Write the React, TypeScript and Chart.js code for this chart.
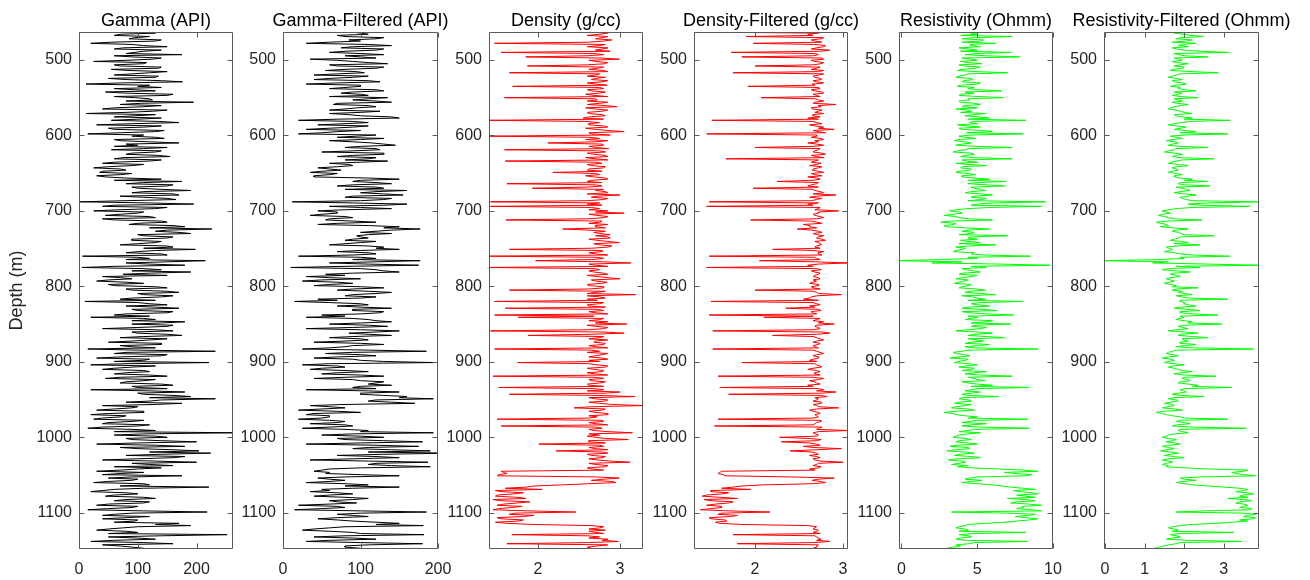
import React, { useEffect, useRef } from "react";
import { Chart, registerables } from "chart.js";

Chart.register(...registerables);

// Depth samples (m)
const DEPTH_M = [
  463, 466, 469, 472, 475, 478, 481, 484, 487, 490,
  493, 496, 499, 502, 505, 508, 511, 514, 517, 520,
  523, 526, 529, 532, 535, 538, 541, 544, 547, 550,
  553, 556, 559, 562, 565, 568, 571, 574, 577, 580,
  583, 586, 589, 592, 595, 598, 601, 604, 607, 610,
  613, 616, 619, 622, 625, 628, 631, 634, 637, 640,
  643, 646, 649, 652, 655, 658, 661, 664, 667, 670,
  673, 676, 679, 682, 685, 688, 691, 694, 697, 700,
  703, 706, 709, 712, 715, 718, 721, 724, 727, 730,
  733, 736, 739, 742, 745, 748, 751, 754, 757, 760,
  763, 766, 769, 772, 775, 778, 781, 784, 787, 790,
  793, 796, 799, 802, 805, 808, 811, 814, 817, 820,
  823, 826, 829, 832, 835, 838, 841, 844, 847, 850,
  853, 856, 859, 862, 865, 868, 871, 874, 877, 880,
  883, 886, 889, 892, 895, 898, 901, 904, 907, 910,
  913, 916, 919, 922, 925, 928, 931, 934, 937, 940,
  943, 946, 949, 952, 955, 958, 961, 964, 967, 970,
  973, 976, 979, 982, 985, 988, 991, 994, 997, 1000,
  1003, 1006, 1009, 1012, 1015, 1018, 1021, 1024, 1027, 1030,
  1033, 1036, 1039, 1042, 1045, 1048, 1051, 1054, 1057, 1060,
  1063, 1066, 1069, 1072, 1075, 1078, 1081, 1084, 1087, 1090,
  1093, 1096, 1099, 1102, 1105, 1108, 1111, 1114, 1117, 1120,
  1123, 1126, 1129, 1132, 1135, 1138, 1141, 1144, 1147,
];

// In-between depth samples (m)
const DEPTH_MID_M = [
  464.5, 467.5, 470.5, 473.5, 476.5, 479.5, 482.5, 485.5, 488.5, 491.5,
  494.5, 497.5, 500.5, 503.5, 506.5, 509.5, 512.5, 515.5, 518.5, 521.5,
  524.5, 527.5, 530.5, 533.5, 536.5, 539.5, 542.5, 545.5, 548.5, 551.5,
  554.5, 557.5, 560.5, 563.5, 566.5, 569.5, 572.5, 575.5, 578.5, 581.5,
  584.5, 587.5, 590.5, 593.5, 596.5, 599.5, 602.5, 605.5, 608.5, 611.5,
  614.5, 617.5, 620.5, 623.5, 626.5, 629.5, 632.5, 635.5, 638.5, 641.5,
  644.5, 647.5, 650.5, 653.5, 656.5, 659.5, 662.5, 665.5, 668.5, 671.5,
  674.5, 677.5, 680.5, 683.5, 686.5, 689.5, 692.5, 695.5, 698.5, 701.5,
  704.5, 707.5, 710.5, 713.5, 716.5, 719.5, 722.5, 725.5, 728.5, 731.5,
  734.5, 737.5, 740.5, 743.5, 746.5, 749.5, 752.5, 755.5, 758.5, 761.5,
  764.5, 767.5, 770.5, 773.5, 776.5, 779.5, 782.5, 785.5, 788.5, 791.5,
  794.5, 797.5, 800.5, 803.5, 806.5, 809.5, 812.5, 815.5, 818.5, 821.5,
  824.5, 827.5, 830.5, 833.5, 836.5, 839.5, 842.5, 845.5, 848.5, 851.5,
  854.5, 857.5, 860.5, 863.5, 866.5, 869.5, 872.5, 875.5, 878.5, 881.5,
  884.5, 887.5, 890.5, 893.5, 896.5, 899.5, 902.5, 905.5, 908.5, 911.5,
  914.5, 917.5, 920.5, 923.5, 926.5, 929.5, 932.5, 935.5, 938.5, 941.5,
  944.5, 947.5, 950.5, 953.5, 956.5, 959.5, 962.5, 965.5, 968.5, 971.5,
  974.5, 977.5, 980.5, 983.5, 986.5, 989.5, 992.5, 995.5, 998.5, 1001.5,
  1004.5, 1007.5, 1010.5, 1013.5, 1016.5, 1019.5, 1022.5, 1025.5, 1028.5, 1031.5,
  1034.5, 1037.5, 1040.5, 1043.5, 1046.5, 1049.5, 1052.5, 1055.5, 1058.5, 1061.5,
  1064.5, 1067.5, 1070.5, 1073.5, 1076.5, 1079.5, 1082.5, 1085.5, 1088.5, 1091.5,
  1094.5, 1097.5, 1100.5, 1103.5, 1106.5, 1109.5, 1112.5, 1115.5, 1118.5, 1121.5,
  1124.5, 1127.5, 1130.5, 1133.5, 1136.5, 1139.5, 1142.5, 1145.5,
];

const GAMMA = [
  100, 70, 120, 85, 130, 20, 110, 75, 140, 95,
  175, 90, 125, 25, 110, 70, 135, 85, 120, 60,
  130, 80, 176, 12, 100, 60, 130, 80, 150, 95,
  125, 195, 70, 110, 40, 125, 12, 95, 140, 55,
  170, 30, 110, 60, 130, 15, 90, 145, 70, 170,
  100, 150, 55, 130, 80, 155, 60, 120, 40, 90,
  25, 80, 35, 70, 45, 140, 175, 80, 150, 100,
  190, 90, 170, 110, 165, 2, 195, 40, 130, 25,
  100, 45, 130, 60, 150, 85, 180, 226, 130, 190,
  110, 150, 90, 130, 70, 160, 198, 100, 140, 6,
  120, 215, 80, 180, 5, 140, 190, 75, 40, 90,
  30, 110, 60, 150, 90, 170, 110, 140, 70, 10,
  120, 80, 170, 100, 150, 60, 20, 130, 180, 90,
  150, 40, 160, 100, 175, 70, 120, 50, 140, 90,
  15, 232, 60, 140, 30, 110, 221, 20, 90, 40,
  120, 60, 150, 45, 110, 70, 160, 100, 20, 180,
  110, 190, 232, 120, 175, 40, 90, 30, 110, 20,
  70, 25, 90, 40, 100, 15, 130, 265, 60, 150,
  90, 200, 30, 180, 100, 204, 224, 80, 160, 40,
  200, 120, 60, 100, 30, 70, 175, 50, 90, 25,
  120, 221, 60, 20, 100, 45, 130, 60, 110, 30,
  90, 15, 218, 60, 120, 40, 95, 170, 190, 75,
  30, 100, 252, 50, 130, 20, 160, 70, 110,
];
const GAMMA_MID = [
  130, 60, 95, 140, 55, 90, 150, 60, 110, 80,
  60, 140, 80, 115, 60, 140, 55, 150, 90, 135,
  50, 140, 70, 120, 140, 95, 45, 160, 60, 120,
  80, 105, 140, 60, 150, 80, 130, 60, 100, 135,
  90, 140, 50, 145, 70, 110, 130, 60, 120, 80,
  60, 110, 140, 90, 135, 75, 140, 60, 110, 50,
  70, 40, 90, 30, 80, 60, 110, 160, 90, 140,
  110, 160, 70, 150, 80, 120, 60, 150, 70, 110,
  70, 120, 40, 140, 100, 160, 120, 150, 170, 100,
  160, 90, 140, 100, 150, 110, 130, 80, 150, 100,
  80, 150, 120, 60, 110, 90, 120, 150, 70, 50,
  80, 50, 130, 80, 150, 100, 160, 90, 130, 100,
  150, 130, 90, 160, 80, 120, 110, 90, 140, 160,
  100, 130, 90, 150, 110, 150, 90, 140, 70, 130,
  100, 80, 150, 70, 120, 60, 80, 130, 60, 110,
  80, 120, 70, 130, 80, 140, 90, 150, 120, 100,
  160, 120, 140, 80, 130, 100, 60, 110, 50, 80,
  40, 110, 50, 120, 40, 90, 60, 110, 130, 80,
  140, 100, 130, 70, 160, 120, 140, 180, 100, 130,
  90, 160, 140, 70, 110, 40, 90, 100, 50, 110,
  70, 110, 40, 80, 60, 110, 80, 120, 50, 100,
  50, 110, 90, 40, 80, 100, 60, 130, 100, 50,
  80, 50, 140, 100, 60, 110, 40, 90,
];

const GAMMA_FILTERED = [
  90, 110, 80, 120, 100, 30, 140, 75, 120, 60,
  130, 100, 35, 90, 135, 70, 120, 55, 105, 40,
  90, 40, 125, 30, 100, 60, 130, 75, 110, 135,
  90, 140, 65, 120, 80, 125, 60, 100, 150, 20,
  110, 45, 90, 30, 70, 20, 95, 130, 60, 115,
  145, 80, 125, 50, 130, 70, 110, 135, 60, 90,
  45, 75, 35, 60, 40, 150, 90, 140, 70, 130,
  160, 100, 155, 80, 130, 12, 160, 60, 140, 45,
  70, 35, 90, 55, 120, 45, 150, 177, 120, 140,
  95, 110, 80, 100, 60, 130, 150, 70, 120, 20,
  120, 177, 60, 175, 10, 120, 150, 55, 30, 100,
  25, 90, 40, 130, 70, 140, 90, 120, 45, 15,
  100, 70, 140, 90, 125, 50, 30, 110, 140, 60,
  135, 30, 150, 85, 140, 60, 110, 40, 130, 80,
  25, 185, 55, 120, 40, 100, 195, 25, 80, 35,
  110, 50, 130, 40, 100, 120, 140, 90, 30, 150,
  100, 160, 194, 110, 170, 35, 80, 20, 100, 30,
  60, 20, 80, 35, 90, 25, 110, 194, 50, 130,
  80, 180, 30, 175, 90, 190, 215, 70, 150, 35,
  187, 110, 190, 60, 40, 55, 150, 45, 80, 30,
  110, 150, 50, 35, 90, 40, 110, 60, 95, 20,
  80, 15, 185, 70, 110, 45, 90, 150, 181, 60,
  25, 90, 182, 40, 120, 30, 180, 80, 100,
];
const GAMMA_FILTERED_MID = [
  100, 70, 130, 85, 60, 110, 90, 130, 80, 100,
  80, 120, 70, 110, 60, 130, 80, 95, 70, 110,
  60, 110, 70, 100, 80, 120, 90, 100, 60, 110,
  120, 70, 110, 95, 60, 100, 85, 140, 70, 90,
  80, 110, 60, 100, 50, 120, 70, 100, 90, 130,
  100, 120, 90, 130, 90, 120, 80, 100, 85, 70,
  60, 50, 70, 40, 110, 100, 120, 90, 120, 80,
  120, 130, 90, 140, 100, 90, 130, 100, 80, 70,
  50, 80, 60, 90, 70, 110, 130, 140, 100, 110,
  100, 90, 120, 80, 110, 120, 100, 110, 90, 100,
  90, 120, 110, 80, 100, 130, 90, 80, 60, 50,
  70, 60, 100, 90, 110, 120, 80, 100, 70, 60,
  110, 100, 90, 130, 100, 80, 90, 120, 100, 110,
  90, 100, 120, 110, 90, 100, 80, 100, 90, 60,
  110, 90, 100, 70, 90, 130, 60, 70, 50, 80,
  70, 100, 80, 90, 130, 110, 100, 120, 110, 100,
  130, 150, 120, 140, 80, 60, 50, 70, 40, 60,
  50, 60, 70, 80, 60, 80, 100, 90, 100, 70,
  130, 100, 120, 110, 140, 110, 130, 120, 90, 110,
  120, 140, 100, 50, 60, 100, 80, 60, 60, 80,
  80, 90, 60, 70, 60, 80, 90, 70, 60, 70,
  50, 100, 100, 90, 70, 70, 120, 120, 80, 40,
  60, 100, 80, 90, 60, 100, 110, 80,
];

const DENSITY = [
  2.65, 2.75, 2.85, 2.7, 2.8, 1.47, 2.75, 2.85, 2.7, 1.55,
  2.8, 1.85, 2.99, 2.7, 2.82, 1.87, 2.72, 2.8, 1.65, 2.7,
  2.82, 2.65, 2.78, 2.7, 1.69, 2.8, 2.65, 2.75, 2.68, 1.59,
  2.72, 2.85, 2.6, 2.96, 2.7, 2.78, 2.62, 2.82, 2.55, 1.4,
  2.75, 2.62, 2.85, 2.7, 3.05, 2.65, 1.4, 2.75, 2.85, 2.12,
  2.8, 2.7, 1.59, 2.82, 2.68, 2.85, 2.7, 1.6, 2.78, 2.65,
  2.8, 2.6, 2.18, 2.75, 2.68, 2.85, 2.6, 1.62, 2.78, 1.93,
  2.7, 2.85, 3.0, 2.65, 2.8, 1.42, 2.6, 1.42, 2.75, 2.85,
  3.05, 2.72, 2.8, 1.61, 2.75, 2.85, 2.7, 2.3, 2.82, 2.75,
  2.7, 2.88, 2.72, 2.99, 2.75, 2.85, 1.65, 2.78, 2.7, 1.4,
  2.8, 1.97, 3.13, 2.7, 1.4, 2.75, 2.68, 2.85, 2.72, 3.0,
  2.7, 2.78, 2.62, 2.8, 1.65, 2.7, 3.19, 2.75, 2.6, 1.47,
  2.75, 2.62, 1.6, 2.8, 2.7, 1.47, 1.76, 2.75, 2.85, 3.08,
  2.7, 2.8, 1.42, 3.05, 1.88, 2.75, 2.85, 2.68, 2.8, 2.7,
  1.47, 2.75, 2.85, 2.7, 2.78, 2.62, 1.75, 2.72, 2.82, 2.68,
  2.78, 2.7, 1.45, 2.8, 2.65, 2.75, 2.62, 1.52, 2.8, 3.0,
  1.65, 3.18, 2.7, 2.82, 2.75, 3.3, 2.44, 2.78, 2.7, 2.85,
  2.72, 1.5, 2.8, 2.7, 1.55, 2.78, 2.68, 3.15, 2.75, 2.7,
  3.1, 2.62, 2.01, 2.8, 2.7, 2.22, 2.85, 2.65, 2.78, 2.72,
  3.12, 2.7, 2.82, 2.65, 1.55, 1.62, 1.5, 2.99, 2.65, 2.95,
  2.3, 1.85, 2.05, 1.55, 1.7, 1.48, 1.85, 1.55, 1.75, 1.5,
  1.68, 1.45, 2.46, 1.65, 1.8, 1.55, 1.75, 1.62, 2.65, 2.75,
  2.82, 2.7, 1.68, 2.75, 2.85, 2.98, 1.62, 2.72, 2.65,
];
const DENSITY_MID = [
  2.85, 2.6, 2.78, 2.9, 2.62, 2.82, 2.6, 2.78, 2.88, 2.68,
  2.6, 2.78, 2.62, 2.85, 2.6, 2.8, 2.62, 2.85, 2.75, 2.6,
  2.7, 2.85, 2.6, 2.84, 2.75, 2.6, 2.82, 2.58, 2.85, 2.7,
  2.6, 2.75, 2.82, 2.58, 2.85, 2.6, 2.78, 2.62, 2.8, 2.58,
  2.62, 2.8, 2.58, 2.85, 2.62, 2.88, 2.62, 2.58, 2.7, 2.78,
  2.62, 2.86, 2.75, 2.6, 2.82, 2.58, 2.85, 2.7, 2.6, 2.82,
  2.62, 2.78, 2.7, 2.58, 2.82, 2.65, 2.78, 2.7, 2.6, 2.8,
  2.82, 2.6, 2.72, 2.85, 2.6, 2.75, 2.78, 2.65, 2.62, 2.7,
  2.62, 2.85, 2.6, 2.78, 2.62, 2.7, 2.82, 2.62, 2.68, 2.88,
  2.85, 2.62, 2.85, 2.68, 2.9, 2.65, 2.78, 2.62, 2.85, 2.72,
  2.65, 2.8, 2.62, 2.85, 2.7, 2.62, 2.8, 2.6, 2.85, 2.65,
  2.84, 2.6, 2.8, 2.62, 2.82, 2.6, 2.6, 2.82, 2.72, 2.8,
  2.6, 2.82, 2.72, 2.62, 2.85, 2.68, 2.8, 2.62, 2.7, 2.6,
  2.85, 2.62, 2.78, 2.65, 2.8, 2.62, 2.7, 2.82, 2.62, 2.85,
  2.65, 2.6, 2.78, 2.62, 2.85, 2.75, 2.62, 2.85, 2.6, 2.8,
  2.6, 2.85, 2.68, 2.62, 2.82, 2.6, 2.8, 2.68, 2.6, 2.82,
  2.72, 2.62, 2.85, 2.62, 2.9, 2.65, 2.82, 2.62, 2.85, 2.62,
  2.62, 2.78, 2.62, 2.85, 2.7, 2.62, 2.85, 2.62, 2.6, 2.82,
  2.62, 2.82, 2.75, 2.62, 2.85, 2.78, 2.6, 2.82, 2.62, 2.88,
  2.62, 2.85, 2.6, 2.8, 1.58, 1.52, 2.7, 2.8, 2.9, 2.62,
  1.95, 1.6, 1.48, 1.82, 1.5, 1.75, 1.45, 1.9, 1.58, 1.8,
  1.52, 1.88, 1.72, 1.95, 1.5, 1.82, 1.48, 1.95, 2.8, 2.62,
  2.62, 2.8, 2.6, 2.62, 2.78, 2.62, 2.85, 2.6,
];

const DENSITY_FILTERED = [
  1.31, 2.6, 1.9, 2.75, 2.68, 1.98, 2.8, 2.7, 2.85, 1.73,
  2.72, 1.85, 2.78, 2.68, 2.75, 2.0, 2.7, 2.78, 1.75, 2.72,
  2.68, 2.76, 2.7, 2.65, 1.92, 2.74, 2.68, 2.78, 2.7, 2.07,
  2.72, 2.68, 2.92, 2.75, 2.65, 2.72, 2.78, 2.66, 2.6, 1.51,
  2.7, 2.62, 2.78, 2.9, 2.72, 1.45, 2.7, 2.75, 2.68, 2.6,
  2.78, 2.0, 2.72, 2.66, 2.8, 2.7, 1.67, 2.68, 2.75, 2.62,
  2.72, 2.65, 2.78, 2.68, 2.6, 2.74, 2.25, 2.7, 2.6, 1.98,
  2.68, 2.78, 2.92, 2.62, 2.7, 1.48, 2.6, 1.45, 2.72, 2.95,
  2.72, 2.68, 2.78, 1.95, 2.7, 2.55, 2.62, 2.48, 2.72, 2.66,
  2.78, 2.7, 2.8, 2.72, 2.75, 2.68, 2.2, 2.78, 2.72, 1.48,
  2.7, 2.05, 3.06, 2.6, 1.45, 2.75, 2.68, 2.72, 2.66, 2.74,
  2.7, 2.62, 2.72, 2.66, 2.0, 2.7, 2.98, 2.64, 2.55, 1.5,
  2.7, 2.62, 2.35, 2.75, 2.65, 1.48, 2.1, 2.7, 2.78, 2.9,
  2.68, 2.74, 1.52, 2.85, 2.2, 2.7, 2.78, 2.66, 2.72, 2.68,
  1.52, 2.7, 2.78, 2.66, 2.72, 2.62, 1.85, 2.7, 2.75, 2.6,
  2.74, 2.68, 1.58, 2.78, 2.62, 2.7, 2.6, 1.6, 2.78, 2.92,
  1.7, 2.82, 2.72, 2.66, 2.75, 2.7, 2.95, 2.62, 2.72, 2.68,
  2.72, 1.58, 2.75, 2.68, 1.54, 2.72, 3.06, 2.66, 2.72, 2.28,
  2.75, 2.3, 2.7, 2.55, 2.98, 2.4, 2.7, 2.62, 2.74, 2.68,
  3.0, 2.7, 2.75, 2.62, 1.62, 1.58, 1.66, 2.9, 2.65, 2.8,
  2.1, 1.75, 1.95, 1.5, 1.62, 1.4, 1.8, 1.5, 1.7, 1.45,
  1.62, 1.38, 2.17, 1.58, 1.72, 1.5, 1.68, 1.6, 2.6, 2.68,
  2.72, 2.66, 1.75, 2.7, 2.75, 2.85, 1.8, 2.7, 2.66,
];
const DENSITY_FILTERED_MID = [
  2.72, 2.66, 2.78, 2.64, 2.76, 2.68, 2.78, 2.64, 2.74, 2.68,
  2.66, 2.76, 2.64, 2.78, 2.66, 2.74, 2.64, 2.72, 2.78, 2.66,
  2.74, 2.66, 2.78, 2.68, 2.72, 2.64, 2.76, 2.66, 2.74, 2.68,
  2.78, 2.66, 2.72, 2.64, 2.76, 2.68, 2.66, 2.74, 2.72, 2.66,
  2.76, 2.68, 2.72, 2.66, 2.8, 2.7, 2.64, 2.78, 2.72, 2.7,
  2.66, 2.74, 2.68, 2.76, 2.64, 2.78, 2.72, 2.64, 2.7, 2.76,
  2.66, 2.72, 2.64, 2.76, 2.7, 2.66, 2.72, 2.64, 2.72, 2.66,
  2.74, 2.66, 2.7, 2.76, 2.64, 2.72, 2.66, 2.74, 2.68, 2.72,
  2.66, 2.74, 2.7, 2.64, 2.76, 2.62, 2.7, 2.64, 2.76, 2.7,
  2.72, 2.76, 2.68, 2.74, 2.7, 2.74, 2.66, 2.72, 2.76, 2.68,
  2.74, 2.68, 2.72, 2.66, 2.7, 2.64, 2.74, 2.68, 2.72, 2.66,
  2.66, 2.72, 2.64, 2.74, 2.66, 2.72, 2.7, 2.62, 2.72, 2.66,
  2.74, 2.68, 2.72, 2.64, 2.7, 2.66, 2.74, 2.66, 2.72, 2.7,
  2.72, 2.66, 2.76, 2.7, 2.66, 2.74, 2.7, 2.74, 2.66, 2.72,
  2.66, 2.74, 2.7, 2.72, 2.66, 2.7, 2.68, 2.74, 2.66, 2.7,
  2.68, 2.74, 2.66, 2.72, 2.68, 2.74, 2.66, 2.72, 2.7, 2.76,
  2.74, 2.68, 2.7, 2.76, 2.66, 2.72, 2.7, 2.66, 2.74, 2.7,
  2.66, 2.74, 2.7, 2.66, 2.76, 2.7, 2.72, 2.68, 2.7, 2.6,
  2.7, 2.62, 2.74, 2.66, 2.7, 2.64, 2.72, 2.7, 2.66, 2.74,
  2.72, 2.66, 2.72, 2.68, 1.6, 1.64, 2.4, 2.72, 2.74, 2.66,
  1.85, 1.62, 1.5, 1.7, 1.45, 1.6, 1.42, 1.75, 1.55, 1.62,
  1.5, 1.7, 1.62, 1.8, 1.48, 1.66, 1.55, 1.85, 2.7, 2.66,
  2.7, 2.74, 2.68, 2.72, 2.7, 2.66, 2.72, 2.7,
];

const RESISTIVITY = [
  4.3, 5.0, 7.3, 4.0, 5.2, 6.2, 4.5, 3.8, 5.0, 7.2,
  4.2, 7.8, 4.6, 3.9, 5.3, 4.1, 4.8, 3.7, 7.0, 4.2,
  3.6, 4.7, 4.0, 5.0, 3.7, 4.4, 6.6, 4.8, 3.8, 6.7,
  4.5, 3.9, 5.2, 4.0, 3.6, 4.6, 5.5, 4.2, 5.8, 8.2,
  4.5, 3.7, 5.2, 4.0, 6.0, 8.0, 3.8, 4.9, 3.5, 4.6,
  3.6, 7.3, 4.2, 3.4, 4.8, 3.9, 7.3, 4.3, 3.6, 5.6,
  3.9, 4.5, 3.6, 4.9, 4.0, 5.8, 6.9, 4.4, 6.8, 4.8,
  5.5, 4.2, 6.0, 4.6, 5.3, 9.5, 5.0, 9.2, 4.4, 3.2,
  4.0, 2.8, 3.8, 6.0, 2.6, 3.5, 2.9, 5.8, 4.0, 4.6,
  7.0, 4.4, 3.9, 5.2, 6.2, 3.6, 4.0, 3.4, 4.6, 8.5,
  5.0, -0.5, 2.0, 9.8, 5.6, 4.3, 5.2, 3.8, 4.6, 3.6,
  4.1, 3.5, 4.4, 3.8, 5.5, 4.2, 6.2, 4.7, 5.5, 8.0,
  4.6, 5.8, 4.0, 6.3, 4.5, 7.4, 5.0, 4.2, 5.6, 7.2,
  4.6, 5.2, 3.6, 6.0, 4.4, 6.8, 5.0, 4.6, 5.8, 4.2,
  9.0, 4.0, 3.6, 4.5, 3.2, 4.2, 3.5, 5.0, 3.8, 4.6,
  5.6, 4.2, 7.3, 4.8, 5.5, 4.4, 6.0, 8.4, 4.6, 5.2,
  4.0, 6.4, 3.8, 4.6, 3.5, 4.2, 3.3, 4.8, 2.8, 3.6,
  5.0, 8.3, 4.5, 5.6, 4.0, 8.4, 4.4, 5.2, 3.8, 3.4,
  4.6, 3.6, 5.0, 3.2, 4.5, 3.0, 4.8, 3.5, 5.2, 3.1,
  4.2, 3.3, 3.7, 6.5, 9.0, 7.5, 8.2, 4.5, 5.3, 4.0,
  6.0, 7.2, 8.8, 7.8, 9.0, 8.2, 7.0, 8.8, 7.2, 9.2,
  8.0, 8.6, 3.3, 8.8, 7.5, 9.0, 7.6, 5.5, 4.2, 3.6,
  4.4, 8.2, 3.8, 4.6, 3.6, 8.3, 4.5, 3.9, 3.0,
];
const RESISTIVITY_MID = [
  4.6, 3.9, 4.8, 5.4, 4.0, 4.6, 5.2, 4.4, 3.9, 5.0,
  5.6, 4.0, 5.0, 4.4, 3.8, 5.2, 4.0, 4.9, 4.4, 3.8,
  4.6, 4.1, 5.2, 3.9, 4.8, 5.0, 4.2, 3.9, 5.0, 4.4,
  3.8, 4.8, 4.2, 5.0, 4.4, 3.9, 4.8, 5.0, 4.4, 4.8,
  5.0, 4.4, 3.8, 5.3, 4.3, 4.6, 4.2, 3.8, 4.2, 4.0,
  4.9, 4.4, 3.7, 4.6, 4.2, 4.8, 4.0, 5.0, 4.4, 4.0,
  4.6, 3.8, 4.4, 4.0, 4.8, 4.4, 5.0, 5.6, 4.6, 5.2,
  4.6, 5.2, 4.8, 5.6, 4.4, 6.0, 4.6, 5.8, 3.6, 3.8,
  3.4, 3.6, 4.4, 3.2, 3.6, 2.8, 4.2, 4.4, 4.8, 3.8,
  4.6, 5.0, 4.4, 3.8, 4.4, 4.2, 3.6, 4.8, 5.4, 4.4,
  2.6, 4.0, 6.5, 4.6, 4.0, 4.8, 4.0, 5.0, 4.0, 4.4,
  3.8, 4.6, 4.0, 5.0, 4.6, 5.2, 4.0, 5.0, 4.4, 5.2,
  5.0, 4.4, 5.4, 4.0, 5.6, 4.4, 4.6, 6.0, 4.6, 5.0,
  5.6, 4.4, 5.0, 4.8, 5.6, 4.4, 5.4, 4.2, 5.0, 4.8,
  4.4, 3.4, 4.2, 3.8, 4.4, 3.8, 4.4, 4.2, 4.8, 4.0,
  4.8, 5.2, 4.4, 5.0, 4.0, 5.0, 4.6, 5.0, 4.2, 4.6,
  4.4, 4.0, 4.4, 3.8, 4.6, 3.6, 4.4, 3.6, 3.4, 4.2,
  4.4, 5.0, 4.0, 4.6, 5.2, 4.8, 3.8, 4.4, 3.6, 4.2,
  3.8, 4.4, 3.6, 4.4, 3.6, 4.2, 3.8, 4.6, 3.6, 4.0,
  3.8, 4.4, 4.6, 8.0, 6.8, 8.6, 5.0, 4.2, 4.6, 5.0,
  6.6, 8.0, 7.4, 8.6, 7.6, 8.8, 8.2, 7.6, 8.4, 8.0,
  7.6, 9.2, 7.0, 8.4, 8.2, 8.4, 6.8, 4.4, 3.8, 4.2,
  3.8, 4.8, 4.4, 3.8, 4.2, 4.8, 3.6, 3.4,
];

const RESISTIVITY_FILTERED = [
  1.9, 2.0, 2.48, 1.8, 2.05, 2.3, 1.85, 1.7, 2.0, 3.12,
  1.85, 2.6, 1.9, 1.7, 2.1, 1.75, 1.95, 1.65, 2.86, 1.8,
  1.6, 1.95, 1.75, 2.05, 1.65, 1.85, 2.3, 1.95, 1.7, 2.35,
  1.85, 1.7, 2.1, 1.75, 1.6, 1.9, 2.2, 1.8, 2.2, 3.16,
  1.9, 1.6, 2.05, 1.75, 2.3, 3.1, 1.65, 1.95, 1.55, 1.85,
  1.6, 2.6, 1.75, 1.5, 1.95, 1.7, 2.75, 1.8, 1.6, 2.1,
  1.7, 1.85, 1.6, 1.95, 1.75, 2.2, 2.6, 1.85, 2.65, 1.95,
  2.15, 1.75, 2.3, 1.9, 2.05, 3.88, 2.1, 3.65, 1.8, 1.45,
  1.65, 1.35, 1.6, 2.45, 1.3, 1.55, 1.4, 2.1, 1.7, 1.9,
  2.75, 1.85, 1.65, 2.1, 2.4, 1.55, 1.7, 1.5, 1.9, 3.15,
  2.0, -0.1, 1.2, 3.92, 2.4, 1.45, 2.15, 1.65, 1.9, 1.55,
  1.75, 1.5, 1.8, 2.35, 1.7, 1.85, 2.2, 1.95, 3.1, 1.9,
  2.0, 2.3, 1.75, 2.4, 1.9, 2.85, 2.0, 1.8, 2.2, 2.95,
  1.85, 2.1, 1.6, 2.35, 1.85, 2.6, 2.0, 1.9, 2.3, 1.8,
  3.75, 1.7, 1.55, 1.85, 1.45, 1.75, 1.5, 2.0, 1.6, 1.85,
  2.2, 1.75, 2.8, 1.95, 2.15, 1.85, 2.35, 3.2, 1.9, 2.05,
  1.7, 2.5, 1.6, 1.85, 1.5, 1.75, 1.45, 1.95, 1.3, 1.55,
  1.9, 3.1, 1.8, 2.15, 1.7, 3.55, 1.85, 2.1, 1.6, 1.45,
  1.8, 1.55, 1.9, 1.45, 1.75, 1.4, 1.85, 1.5, 2.0, 1.45,
  1.7, 1.45, 1.55, 2.6, 3.5, 3.3, 3.8, 1.9, 2.3, 1.8,
  2.2, 3.0, 3.6, 3.3, 3.75, 3.4, 3.1, 3.7, 3.3, 3.6,
  3.4, 3.65, 1.8, 3.8, 3.5, 3.75, 3.6, 2.8, 1.9, 1.6,
  1.85, 3.25, 1.65, 1.9, 1.55, 3.45, 1.8, 1.5, 1.25,
];
const RESISTIVITY_FILTERED_MID = [
  1.75, 2.15, 1.9, 2.2, 1.7, 1.95, 2.1, 1.8, 2.4, 1.75,
  2.0, 1.75, 1.95, 1.8, 1.9, 2.0, 1.7, 2.2, 1.9, 1.7,
  1.8, 1.7, 1.95, 1.8, 1.9, 2.0, 1.75, 1.85, 1.9, 1.75,
  1.95, 1.8, 1.9, 1.65, 1.8, 2.0, 1.75, 1.95, 2.0, 2.2,
  1.75, 1.8, 1.9, 2.0, 1.9, 2.0, 1.8, 1.7, 1.75, 1.7,
  1.9, 1.8, 1.6, 1.75, 1.8, 1.9, 1.95, 1.7, 1.85, 1.8,
  1.8, 1.7, 1.8, 1.75, 1.9, 2.0, 1.9, 2.0, 1.8, 2.05,
  1.9, 2.0, 2.1, 1.95, 2.2, 2.6, 2.4, 2.2, 1.6, 1.55,
  1.45, 1.5, 1.75, 1.6, 1.4, 1.6, 1.7, 1.8, 1.85, 2.0,
  1.9, 1.75, 1.9, 1.75, 1.8, 1.6, 1.65, 1.75, 2.2, 1.9,
  1.4, 1.6, 2.6, 1.8, 1.6, 1.8, 1.75, 1.8, 1.65, 1.65,
  1.6, 1.65, 1.7, 1.8, 1.95, 2.0, 1.8, 2.1, 1.9, 2.0,
  2.1, 1.9, 2.1, 1.9, 2.2, 1.9, 1.9, 2.0, 2.1, 2.0,
  1.95, 1.8, 2.0, 1.9, 2.2, 1.95, 2.1, 1.9, 2.0, 2.2,
  1.8, 1.6, 1.7, 1.6, 1.65, 1.6, 1.75, 1.7, 1.75, 1.95,
  1.9, 2.0, 2.0, 2.1, 1.9, 2.1, 2.2, 2.0, 2.0, 1.85,
  1.9, 1.75, 1.8, 1.65, 1.7, 1.6, 1.75, 1.5, 1.45, 1.7,
  2.0, 1.9, 2.0, 1.8, 2.2, 1.9, 1.95, 1.75, 1.55, 1.6,
  1.7, 1.75, 1.6, 1.6, 1.55, 1.65, 1.65, 1.75, 1.6, 1.6,
  1.55, 1.6, 2.0, 3.6, 3.2, 3.5, 2.4, 2.0, 1.95, 2.0,
  2.6, 3.4, 3.5, 3.6, 3.5, 3.6, 3.5, 3.4, 3.5, 3.5,
  3.7, 2.5, 3.5, 3.6, 3.8, 3.4, 3.2, 2.2, 1.7, 1.75,
  1.7, 1.9, 1.8, 1.7, 2.1, 1.9, 1.6, 1.35,
];

const DEPTH_TICKS = [500, 600, 700, 800, 900, 1000, 1100];
const GAMMA_TICKS = [0, 100, 200];
const DENSITY_TICKS = [2, 3];
const RESISTIVITY_TICKS = [0, 5, 10];
const RESISTIVITY_FILTERED_TICKS = [0, 1, 2, 3];

const TITLES = [
  "Gamma (API)",
  "Gamma-Filtered (API)",
  "Density (g/cc)",
  "Density-Filtered (g/cc)",
  "Resistivity (Ohmm)",
  "Resistivity-Filtered (Ohmm)",
];

const FONT = "'Liberation Sans', Arial, Helvetica, sans-serif";
const PAGE_H = 580;
const PLOT_BOTTOM = 549;
const DEPTH_MIN = 463;
const DEPTH_MAX = 1148;

type PanelSpec = {
  title: string;
  values: number[];
  midValues: number[];
  color: string;
  ticks: number[];
  min: number;
  max: number;
  left: number;
  right: number;
  margin: number;
  yTitle?: string;
};

const PANELS: PanelSpec[] = [
  { title: TITLES[0], values: GAMMA, midValues: GAMMA_MID, color: "#000000", ticks: GAMMA_TICKS, min: 0, max: 262, left: 79, right: 233, margin: 79, yTitle: "Depth (m)" },
  { title: TITLES[1], values: GAMMA_FILTERED, midValues: GAMMA_FILTERED_MID, color: "#000000", ticks: GAMMA_TICKS, min: 0, max: 200, left: 283, right: 438, margin: 60 },
  { title: TITLES[2], values: DENSITY, midValues: DENSITY_MID, color: "#ff0000", ticks: DENSITY_TICKS, min: 1.402, max: 3.28, left: 489, right: 643, margin: 60 },
  { title: TITLES[3], values: DENSITY_FILTERED, midValues: DENSITY_FILTERED_MID, color: "#ff0000", ticks: DENSITY_TICKS, min: 1.307, max: 3.057, left: 694, right: 848, margin: 60 },
  { title: TITLES[4], values: RESISTIVITY, midValues: RESISTIVITY_MID, color: "#00ff00", ticks: RESISTIVITY_TICKS, min: -0.16, max: 10, left: 899, right: 1053, margin: 60 },
  { title: TITLES[5], values: RESISTIVITY_FILTERED, midValues: RESISTIVITY_FILTERED_MID, color: "#00ff00", ticks: RESISTIVITY_FILTERED_TICKS, min: -0.025, max: 3.89, left: 1104, right: 1259, margin: 60 },
];

const framePlugin = {
  id: "matlabFrame",
  afterDatasetsDraw(chart: any) {
    const { ctx, chartArea: a, scales } = chart;
    const L = Math.round(a.left) + 0.5;
    const R = Math.round(a.right) - 0.5;
    const T = Math.round(a.top) + 0.5;
    const B = Math.round(a.bottom) - 0.5;
    const TL = 5;
    ctx.save();
    ctx.strokeStyle = "#5a5a5a";
    ctx.lineWidth = 1;
    ctx.beginPath();
    ctx.rect(L, T, R - L, B - T);
    for (const t of scales.x.ticks) {
      const px = Math.round(scales.x.getPixelForValue(t.value)) + 0.5;
      ctx.moveTo(px, B);
      ctx.lineTo(px, B - TL);
      ctx.moveTo(px, T);
      ctx.lineTo(px, T + TL);
    }
    for (const t of scales.y.ticks) {
      const py = Math.round(scales.y.getPixelForValue(t.value)) + 0.5;
      ctx.moveTo(L, py);
      ctx.lineTo(L + TL, py);
      ctx.moveTo(R, py);
      ctx.lineTo(R - TL, py);
    }
    ctx.stroke();
    ctx.restore();
  },
};

function LogPanel({ spec }: { spec: PanelSpec }) {
  const ref = useRef<HTMLCanvasElement | null>(null);
  const plotW = spec.right - spec.left;
  const canvasW = plotW + 2 * spec.margin;
  const canvasLeft = spec.left - spec.margin;

  useEffect(() => {
    if (!ref.current) return;
    const points = [
      ...DEPTH_M.map((d, i) => ({ x: spec.values[i], y: d })),
      ...DEPTH_MID_M.map((d, i) => ({ x: spec.midValues[i], y: d })),
    ].sort((p, q) => p.y - q.y);
    const chart = new Chart(ref.current, {
      type: "scatter",
      data: {
        datasets: [
          {
            data: points,
            showLine: true,
            borderColor: spec.color,
            backgroundColor: spec.color,
            borderWidth: 1,
            pointRadius: 0,
            pointHoverRadius: 0,
            fill: false,
            tension: 0,
            borderJoinStyle: "round",
          } as any,
        ],
      },
      options: {
        animation: false,
        responsive: false,
        devicePixelRatio: 1,
        events: [],
        layout: { padding: 0 },
        plugins: {
          legend: { display: false },
          tooltip: { enabled: false },
          title: {
            display: true,
            text: spec.title,
            color: "#000000",
            font: { family: FONT, size: 18, weight: "normal", lineHeight: 1.2 },
            padding: { top: 10.4, bottom: 0 },
          },
        },
        scales: {
          x: {
            type: "linear",
            position: "bottom",
            min: spec.min,
            max: spec.max,
            grid: { display: false, drawTicks: false },
            border: { display: false },
            afterBuildTicks: (s: any) => {
              s.ticks = spec.ticks.map((v) => ({ value: v }));
            },
            afterFit: (s: any) => {
              s.height = PAGE_H - PLOT_BOTTOM;
            },
            ticks: {
              autoSkip: false,
              maxRotation: 0,
              padding: 11,
              color: "#262626",
              font: { family: FONT, size: 16 },
              callback: (v: any) => String(v),
            },
          },
          y: {
            type: "linear",
            position: "left",
            reverse: true,
            min: DEPTH_MIN,
            max: DEPTH_MAX,
            grid: { display: false, drawTicks: false },
            border: { display: false },
            afterBuildTicks: (s: any) => {
              s.ticks = DEPTH_TICKS.map((v) => ({ value: v }));
            },
            afterFit: (s: any) => {
              s.width = spec.margin;
            },
            ticks: {
              autoSkip: false,
              padding: 7,
              color: "#262626",
              font: { family: FONT, size: 16 },
              callback: (v: any) => String(v),
            },
            title: spec.yTitle
              ? {
                  display: true,
                  text: spec.yTitle,
                  color: "#262626",
                  font: { family: FONT, size: 18, lineHeight: 1.2 },
                  padding: { top: 6.2, bottom: 0 },
                }
              : { display: false },
          },
          yRight: {
            type: "linear",
            position: "right",
            display: true,
            grid: { display: false, drawTicks: false },
            border: { display: false },
            ticks: { display: false },
            afterFit: (s: any) => {
              s.width = spec.margin;
            },
          },
        },
      } as any,
      plugins: [framePlugin],
    });
    return () => chart.destroy();
  }, []);

  return (
    <canvas
      ref={ref}
      width={canvasW}
      height={PAGE_H}
      style={{ position: "absolute", left: canvasLeft, top: 0, width: canvasW, height: PAGE_H }}
    />
  );
}

export default function App() {
  return (
    <div
      style={{
        position: "fixed",
        left: 0,
        top: 0,
        width: 1310,
        height: PAGE_H,
        background: "#ffffff",
        overflow: "hidden",
      }}
    >
      {PANELS.map((p) => (
        <LogPanel key={p.title} spec={p} />
      ))}
    </div>
  );
}
